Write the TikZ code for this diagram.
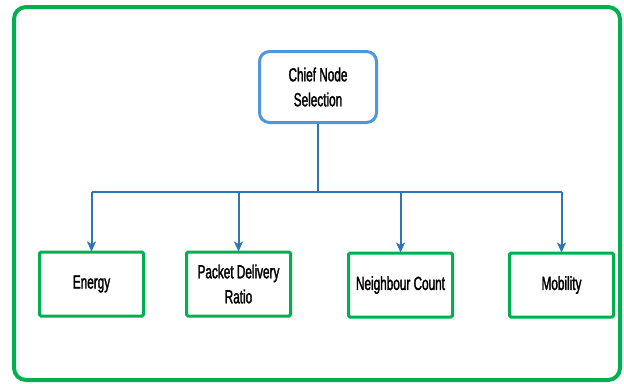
\documentclass[tikz,border=0pt]{standalone}
\usepackage{fontspec}
\setmainfont[FakeStretch=0.62,FakeBold=1.6]{Liberation Sans}
\usetikzlibrary{arrows.meta}
\definecolor{frameg}{RGB}{0,176,80}
\definecolor{chiefb}{RGB}{80,150,220}
\definecolor{linkb}{RGB}{46,117,182}
\tikzset{
  frame/.style={draw=frameg, line width=4bp, rounded corners=12bp},
  chiefbox/.style={draw=chiefb, line width=3bp, rounded corners=10bp, fill=white,
    minimum width=117bp, minimum height=71bp, align=center, inner sep=0pt,
    font=\fontsize{19bp}{25bp}\selectfont},
  leafbox/.style={draw=frameg, line width=3bp, rounded corners=1.5bp, fill=white,
    minimum width=104bp, minimum height=64bp, align=center, inner sep=0pt,
    font=\fontsize{19bp}{25bp}\selectfont},
  link/.style={draw=linkb, line width=2bp},
  arr/.style={link, -{Stealth[length=10bp,width=9bp,inset=2.5bp]}}
}
\begin{document}
\begin{tikzpicture}[x=1bp,y=-1bp]
\useasboundingbox (0,0) rectangle (624,383);
\draw[frame] (14,7) rectangle (620,380);
\node[chiefbox] (chief) at (318,87) {Chief Node\\Selection};
\node[leafbox] (e) at (91.5,284) {Energy};
\node[leafbox] (p) at (238.5,284) {Packet Delivery\\Ratio};
\node[leafbox] (n) at (400.5,285) {Neighbour Count};
\node[leafbox] (m) at (561.5,285) {Mobility};
\coordinate (bus) at (318,192);
\draw[link] (chief.south) -- (bus);
\draw[link] (bus -| e.north) -- (bus -| m.north);
\foreach \t in {e,p,n,m}{
  \draw[arr] (bus -| \t.north) -- ([yshift=-1bp]\t.north);
}
\end{tikzpicture}
\end{document}
